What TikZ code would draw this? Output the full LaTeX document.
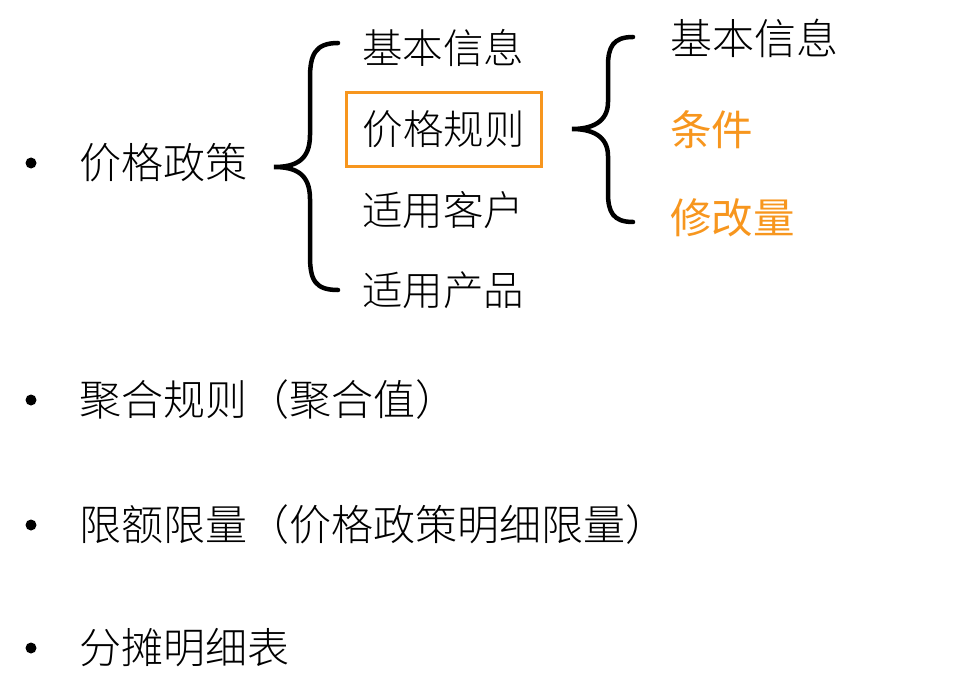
\documentclass[tikz,border=0pt]{standalone}
\usepackage{fontspec}
\newfontfamily\cjk{Noto Sans CJK SC Light}
\newfontfamily\cjkreg{Noto Sans CJK SC}
\usetikzlibrary{positioning}
\definecolor{ruleorange}{RGB}{247,150,30}
\tikzset{
every node/.style={inner sep=0pt, font=\cjk\fontsize{40.5}{48}\selectfont}, % all labels
item/.style={anchor=west},
big/.style={anchor=west, font=\cjk\fontsize{42}{50}\selectfont},
hl/.style={anchor=west, text=ruleorange, font=\cjkreg\fontsize{41.5}{50}\selectfont},
dot/.style={circle, fill=black, minimum size=11pt},
curly/.style={line width=4.5pt, line cap=round},
}
\begin{document}
\begin{tikzpicture}[x=1pt,y=-1pt]
  \useasboundingbox (0,0) rectangle (953,698);
  % bullets
  \node[dot] (b1) at (31,163) {};
  \node[dot] (b2) at (31,400) {};
  \node[dot] (b3) at (31,525) {};
  \node[dot] (b4) at (31,648) {};
  \node[big] (policy) at (79,163) {价格政策};
  \node[big] (aggr) at (79,400) {聚合规则（聚合值）};
  \node[big] (limit) at (79,525) {限额限量（价格政策明细限量）};
  \node[big] (split) at (79,648) {分摊明细表};
  % first level
  \node[item] (info) at (362,48) {基本信息};
  \node[draw=ruleorange, line width=3pt, minimum width=195pt, minimum height=73pt] (rule) at (443.5,129.5) {价格规则};
  \node[item] (cust) at (362,210) {适用客户};
  \node[item] (prod) at (362,290) {适用产品};
  % second level
  \node[big] (info2) at (670,38) {基本信息};
  \node[hl] (cond) at (670,130) {条件};
  \node[hl] (delta) at (670,218) {修改量};
  % braces
  \coordinate (lt) at (338,43);
  \coordinate (lm) at (274,167);
  \coordinate (lb) at (338,290);
  \coordinate (rt) at (633,37);
  \coordinate (rm) at (572,129);
  \coordinate (rb) at (633,222);
  \draw[curly] (lt) .. controls (315,43) and (310,55) .. (310,78) -- (310,135)
    .. controls (310,160) and (296,167) .. (lm)
    .. controls (296,167) and (310,174) .. (310,199) -- (310,256)
    .. controls (310,280) and (315,290) .. (lb);
  \draw[curly] (rt) .. controls (613,37) and (608,47) .. (608,66) -- (608,102)
    .. controls (608,122) and (592,129) .. (rm)
    .. controls (592,129) and (608,136) .. (608,156) -- (608,193)
    .. controls (608,212) and (613,222) .. (rb);
\end{tikzpicture}
\end{document}
